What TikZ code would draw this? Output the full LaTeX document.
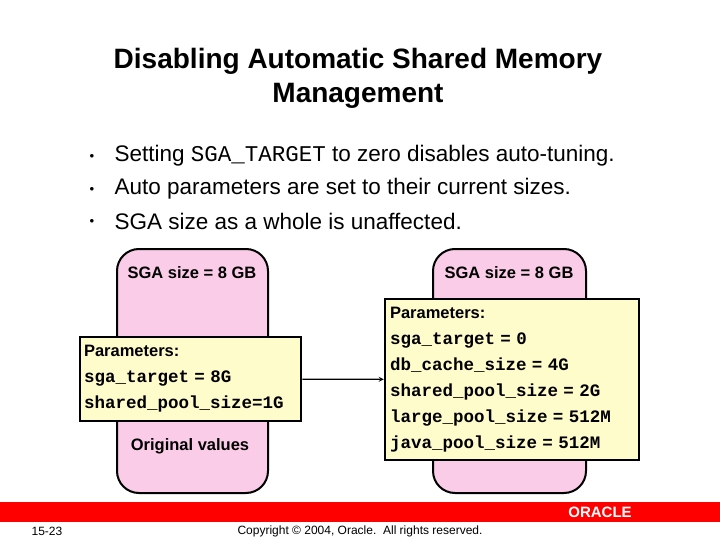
\documentclass[tikz,border=0pt]{standalone}
\usepackage{fontspec}
\setmainfont{Liberation Sans}
\setmonofont{Liberation Mono}
\usetikzlibrary{positioning}
\begin{document}
\begin{tikzpicture}[x=1pt,y=-1pt]
    % Define styles
    \tikzstyle{sga} = [draw=black, line width=2pt, fill=magenta!20, rounded corners=22pt]
    \tikzstyle{params} = [draw=black, line width=2.5pt, fill=yellow!20, align=left, inner sep=0pt]
    \tikzstyle{bullet} = [anchor=west, font=\fontsize{22.5}{26}\selectfont]
    \tikzstyle{arrow} = [line width=1.2pt,->,>=stealth]

    \useasboundingbox (0,0) rectangle (720,540);

    % Title
    \node (title) [font=\bfseries\fontsize{28}{34}\selectfont, align=center] at (358,78) {Disabling Automatic Shared Memory\\Management};

    % Bullets
    \foreach \y/\t [count=\i] in {156/{Setting \texttt{SGA\_TARGET} to zero disables auto-tuning.},
                                  189/{Auto parameters are set to their current sizes.},
                                  221/{SGA size as a whole is unaffected.}} {
        \node (dot\i) at (92,\y) {\small$\bullet$};
        \node (item\i) [bullet] at (111,\y) {\t};
    }

    % SGA shapes
    \draw [sga] (117,249) rectangle (268,493);
    \draw [sga] (433,249) rectangle (586,493);
    \node (sgaleft) [font=\bfseries\fontsize{16.5}{18}\selectfont] at (192,273) {SGA size = 8 GB};
    \node (sgaright) [font=\bfseries\fontsize{16.5}{18}\selectfont] at (509,273) {SGA size = 8 GB};
    \node (orig) [font=\bfseries\fontsize{16.5}{18}\selectfont] at (190,446) {Original values};

    % Parameter boxes
    \node (oldpar) [params, minimum width=221pt, minimum height=84pt, text width=213pt,
        font=\bfseries\fontsize{16.5}{26}\selectfont] at (190.5,379)
        {Parameters:\\\fontsize{17.5}{26}\selectfont\texttt{sga\_target = 8G}\\\texttt{shared\_pool\_size=1G}};
    \node (newpar) [params, minimum width=254pt, minimum height=161pt, text width=244pt,
        font=\bfseries\fontsize{16.5}{26}\selectfont] at (512,379.5)
        {Parameters:\\\fontsize{17.5}{26}\selectfont\texttt{sga\_target = 0}\\\texttt{db\_cache\_size = 4G}\\\texttt{shared\_pool\_size = 2G}\\\texttt{large\_pool\_size = 512M}\\\texttt{java\_pool\_size = 512M}};

    % Arrow
    \draw [arrow] (oldpar) -- (newpar);

    % Footer
    \fill [red] (0,502) rectangle (720,522);
    \node (oracle) [text=white, font=\bfseries\fontsize{15}{16}\selectfont] at (600,512) {ORACLE};
    \node (page) [font=\fontsize{12}{14}\selectfont] at (47,531) {15-23};
    \node (copy) [font=\fontsize{12}{14}\selectfont] at (360,531) {Copyright © 2004, Oracle.\ \ All rights reserved.};
\end{tikzpicture}
\end{document}
